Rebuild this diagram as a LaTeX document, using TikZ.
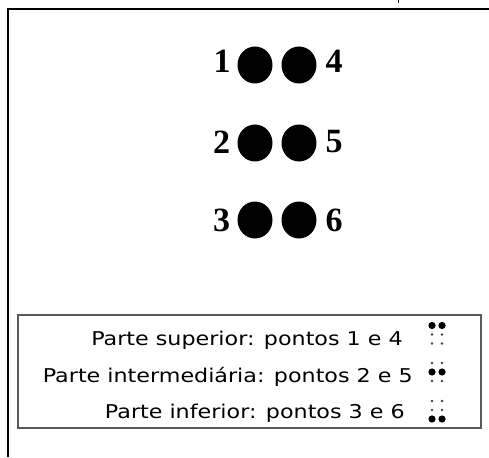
\documentclass[tikz,border=0pt]{standalone}
\usepackage{fontspec}
\setmainfont{Liberation Serif}
\newfontfamily\boxfont[FakeStretch=1.17]{DejaVu Sans}
\usetikzlibrary{shapes.geometric}
\begin{document}
\begin{tikzpicture}[x=1pt,y=-1pt,
  dot/.style={ellipse,fill=black,inner sep=0pt,minimum width=35pt,minimum height=37pt},
  num/.style={font=\fontsize{34}{34}\selectfont\bfseries,inner sep=0pt},
  txt/.style={font=\boxfont\fontsize{19}{19}\selectfont,inner sep=0pt,anchor=base east}]
\useasboundingbox (0,0) rectangle (489,457);
\fill[white] (0,0) rectangle (489,457);
% frame
\draw[line width=1.6pt] (8,457)--(8,9)--(489,9);
\draw[line width=1pt] (398,0)--(398,3);

% the six dots
\node[dot] (d1) at (255,65) {};
\node[dot] (d4) at (299,65) {};
\node[dot] (d2) at (255,143) {};
\node[dot] (d5) at (299,143) {};
\node[dot] (d3) at (255,220) {};
\node[dot] (d6) at (299,220) {};
\node[num] (n1) at (222,61) {1};
\node[num] (n4) at (334,61) {4};
\node[num] (n2) at (221.5,142) {2};
\node[num] (n5) at (334,142) {5};
\node[num] (n3) at (221.5,220) {3};
\node[num] (n6) at (334,220) {6};

% legend
\draw[line width=1.5pt,black!65] (18,315) rectangle (481,428);
\node[txt] (sup) at (403,345) {Parte superior: pontos 1 e 4};
\node[txt] (int) at (413,382) {Parte intermediária: pontos 2 e 5};
\node[txt] (inf) at (405,418) {Parte inferior: pontos 3 e 6};
\foreach \yc/\big in {334.5/-9,372/0,410/9}{
  \foreach \dy in {-9,0,9}{
    \foreach \xc in {432,442}{
      \ifnum\dy=\big
        \fill (\xc,\yc+\dy) circle (3.6pt);
      \else
        \fill[black!75] (\xc,\yc+\dy) circle (1.4pt);
      \fi
    }}}
\end{tikzpicture}
\end{document}
